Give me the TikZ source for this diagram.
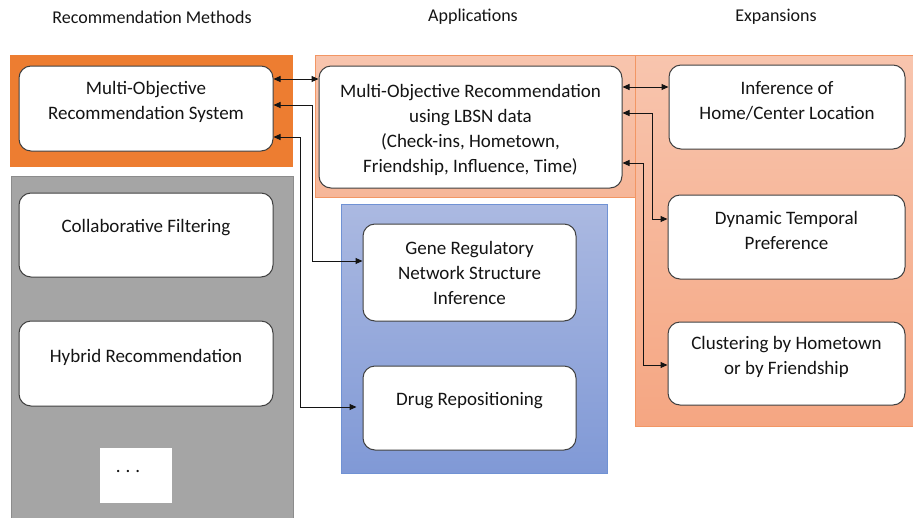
\documentclass[tikz,border=0pt]{standalone}
\usepackage{fontspec}
\setmainfont{Carlito}
\usetikzlibrary{arrows.meta}
\definecolor{dorange}{RGB}{237,125,49}
\definecolor{gbox}{RGB}{165,165,165}
\definecolor{gboxb}{RGB}{140,140,140}
\definecolor{salt}{RGB}{248,197,174}
\definecolor{salm}{RGB}{246,182,152}
\definecolor{salb}{RGB}{245,166,130}
\definecolor{salline}{RGB}{242,150,100}
\definecolor{blt}{RGB}{171,185,225}
\definecolor{blb}{RGB}{128,153,214}
\definecolor{blline}{RGB}{112,146,212}
\definecolor{nline}{RGB}{64,64,64}
\definecolor{txt}{RGB}{20,20,20}
\definecolor{arr}{RGB}{20,20,20}
\tikzset{
  nbox/.style={draw=nline, line width=1pt, fill=white, rounded corners=12pt, inner sep=0pt},
  ntext/.style={text=txt, font=\fontsize{19}{25}\selectfont, align=center, inner sep=0pt},
  ttl/.style={text=txt, font=\fontsize{18}{20}\selectfont, inner sep=0pt},
  biarr/.style={draw=arr, line width=1pt, {Triangle[length=7pt,width=6pt]}-{Triangle[length=7pt,width=6pt]}},
}
\begin{document}
\begin{tikzpicture}[x=1pt,y=-1pt]
\useasboundingbox (0,0) rectangle (913,517);
% background panels
\path[fill=dorange] (10,55) rectangle (293,167);
\path[fill=gbox, draw=gboxb, line width=0.8pt] (11,176) rectangle (293,530);
\path[top color=salt, bottom color=salm, draw=salline, line width=0.8pt] (315,55) rectangle (635,197);
\path[top color=salt, bottom color=salb, draw=salline, line width=0.8pt] (635,55) rectangle (925,426);
\path[top color=blt, bottom color=blb, draw=blline, line width=0.8pt] (341,204) rectangle (607,473);
% titles
\node[ttl] (t1) at (152,17) {Recommendation Methods};
\node[ttl] (t2) at (473,17) {Applications};
\node[ttl] (t3) at (776,17) {Expansions};
% boxes
\node[nbox, minimum width=254pt, minimum height=85pt] (mors) at (146,108.5) {};
\node[ntext] (morst) at (146,101.5) {Multi-Objective\\Recommendation System};
\node[nbox, minimum width=254pt, minimum height=84pt] (cf) at (146,235) {};
\node[ntext] (cft) at (146,228) {Collaborative Filtering};
\node[nbox, minimum width=254pt, minimum height=85pt] (hyb) at (146,363.5) {};
\node[ntext] (hybt) at (146,357) {Hybrid Recommendation};
\path[fill=white] (100,448) rectangle (172,503);
\node[ntext, anchor=base] (dots) at (128,472) {.\hspace{5pt}.\hspace{5pt}.};
\node[nbox, minimum width=303pt, minimum height=122pt] (lbsn) at (470.5,127) {};
\node[ntext] (lbsnt) at (470.5,129.5) {Multi-Objective Recommendation\\using LBSN data\\(Check-ins, Hometown,\\Friendship, Influence, Time)};
\node[nbox, minimum width=213pt, minimum height=97pt] (gene) at (469.5,272.5) {};
\node[ntext] (genet) at (469.5,273) {Gene Regulatory\\Network Structure\\Inference};
\node[nbox, minimum width=213pt, minimum height=84pt] (drug) at (469.5,408) {};
\node[ntext] (drugt) at (469.5,401) {Drug Repositioning};
\node[nbox, minimum width=236pt, minimum height=84pt] (inf) at (787,107) {};
\node[ntext] (inft) at (787,100.5) {Inference of\\Home/Center Location};
\node[nbox, minimum width=237pt, minimum height=84pt] (dyn) at (786.5,237) {};
\node[ntext] (dynt) at (786.5,230.5) {Dynamic Temporal\\Preference};
\node[nbox, minimum width=237pt, minimum height=83pt] (clu) at (786.5,363.5) {};
\node[ntext] (clut) at (786.5,357) {Clustering by Hometown\\or by Friendship};
% connectors
\draw[biarr] (mors.east |- 0,79) -- (lbsn.west |- 0,79);
\draw[biarr] (mors.east |- 0,105) -- (312,105) -- (312,261) -- (gene.west |- 0,261);
\draw[biarr, shorten >=6pt] (mors.east |- 0,137) -- (300,137) -- (300,407) -- (drug.west |- 0,407);
\draw[biarr] (lbsn.east |- 0,87) -- (inf.west |- 0,87);
\draw[biarr] (lbsn.east |- 0,113) -- (652,113) -- (652,219) -- (dyn.west |- 0,219);
\draw[biarr] (lbsn.east |- 0,163) -- (643,163) -- (643,365) -- (clu.west |- 0,365);
\end{tikzpicture}
\end{document}
